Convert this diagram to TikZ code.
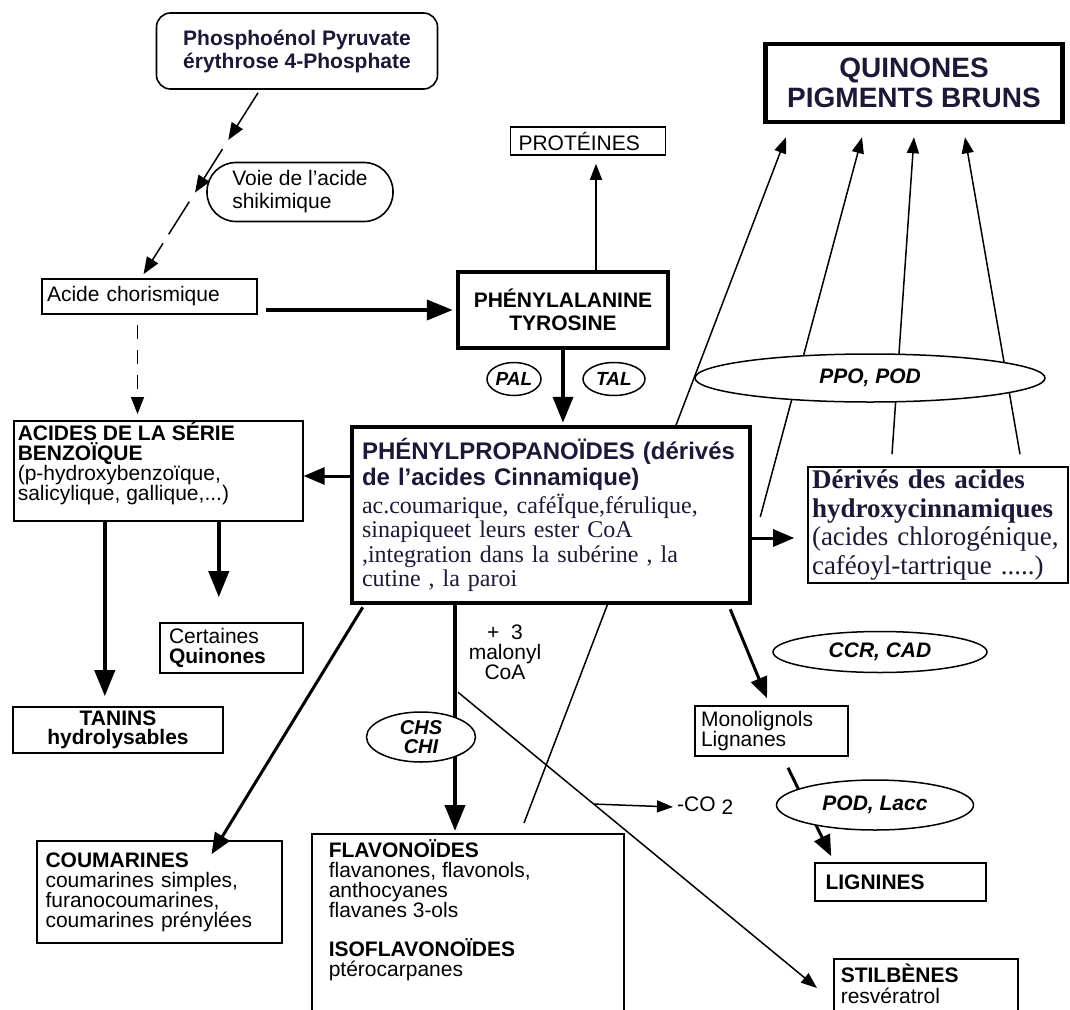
\documentclass[tikz,border=0pt]{standalone}
\usepackage{fontspec}
\setmainfont{Liberation Sans}
\newfontfamily\timesfont{Liberation Serif}
\usetikzlibrary{arrows.meta,shapes.geometric,calc,backgrounds}
\definecolor{ink}{RGB}{28,24,56}
\newcommand{\fsize}[2]{\fontsize{#1}{#2}\selectfont}

\begin{document}
\begin{tikzpicture}[x=1pt, y=-1pt,
	box/.style={draw, rectangle, line width=1.6pt, fill=white, inner sep=0pt, font=\fsize{21}{20}},
	heavybox/.style={box, line width=4.5pt},
	enzyme/.style={draw, ellipse, line width=1.5pt, fill=white, inner sep=0pt, align=center, font=\fsize{21}{19}\bfseries\itshape},
	pathway/.style={line width=1.5pt, >={Triangle[length=17pt,width=13pt]}},
	lightline/.style={line width=1.5pt, >={Triangle[length=16pt,width=12pt]}},
	midline/.style={line width=3pt, >={Triangle[length=21pt,width=17pt]}},
	heavyline/.style={line width=4pt, >={Triangle[length=26pt,width=20pt]}}]
	\useasboundingbox (0,0) rectangle (1070,1009);
	\node[box, rounded corners=14pt, minimum width=281pt, minimum height=76pt, align=center, font=\fsize{21}{23}\bfseries, text=ink] (0) at (297,51) {Phosphoénol Pyruvate\\érythrose 4-Phosphate};
	\node[box, rounded corners=29pt, minimum width=186pt, minimum height=59pt, align=left, font=\fsize{21}{23}] (1) at (300,192) {Voie de l'acide\\shikimique};
	\node[box, minimum width=215pt, minimum height=35pt, text width=205pt, align=left] (2) at (149.5,296.5) {Acide chorismique};
	\node[heavybox, minimum width=210pt, minimum height=76pt, align=center, font=\fsize{21}{23}\bfseries] (3) at (563,310) {PHÉNYLALANINE\\TYROSINE};
	\node[box, minimum width=155pt, minimum height=28pt, text width=139pt, align=left] (4) at (588,141) {PROTÉINES};
	\node[heavybox, minimum width=297pt, minimum height=78pt, align=center, font=\fsize{28}{30}\bfseries, text=ink] (5) at (914,83) {QUINONES\\PIGMENTS BRUNS};
	\node[enzyme, minimum width=54pt, minimum height=33pt, font=\fsize{19}{19}\bfseries\itshape] (6) at (514,379) {PAL};
	\node[enzyme, minimum width=62pt, minimum height=33pt, font=\fsize{19}{19}\bfseries\itshape] (7) at (614,379) {TAL};
	\node[enzyme, minimum width=350pt, minimum height=48pt] (8) at (870,378) {PPO, POD};
	\node[box, anchor=north west, inner xsep=4pt, inner ysep=1pt] (9) at (13,420) {\parbox[c][98pt][t]{281pt}{\bfseries ACIDES DE LA SÉRIE\\BENZOÏQUE\\\mdseries (p-hydroxybenzoïque,\\salicylique, gallique,...)}};
	\node[heavybox, minimum width=398pt, minimum height=176pt, text width=378pt, align=left, font=\fsize{24}{24.5}, text=ink] (10) at (551,515) {{\bfseries PHÉNYLPROPANOÏDES (dérivés\\[2pt]de l'acides Cinnamique)}\\[3pt]\timesfont ac.coumarique, caféÏque,férulique,\\sinapiqueet leurs ester CoA\\,integration dans la subérine , la\\cutine , la paroi};
	\node[box, minimum width=260pt, minimum height=116pt, text width=252pt, align=left, font=\fsize{27}{28.5}\timesfont, text=ink] (11) at (938,525) {\bfseries Dérivés des acides\\hydroxycinnamiques\\\mdseries (acides chlorogénique,\\caféoyl-tartrique .....)};
	\node[box, minimum width=143pt, minimum height=50pt, text width=125pt, align=left] (12) at (231.5,648) {Certaines\\\textbf{Quinones}};
	\node[box, minimum width=210pt, minimum height=46pt, align=center, font=\fsize{21}{19}\bfseries] (13) at (118,730) {TANINS\\hydrolysables};
	\node[box, minimum width=245pt, minimum height=102pt, text width=228pt, align=left] (14) at (159.5,892) {\textbf{COUMARINES}\\coumarines simples,\\furanocoumarines,\\coumarines prénylées};
	\node[align=center, font=\fsize{21}{20}] (15) at (505,652) {+\ \ 3\\malonyl\\CoA};
	\node[enzyme, minimum width=109pt, minimum height=50pt, inner sep=-3pt, font=\fsize{20}{19}\bfseries\itshape] (16) at (421,737) {CHS\\CHI};
	\node[box, anchor=north west, inner xsep=17pt, inner ysep=6pt] (17) at (311,833) {\parbox[c][190pt][t]{278pt}{\textbf{FLAVONOÏDES}\\flavanones, flavonols,\\anthocyanes\\flavanes 3-ols\\[19pt]\textbf{ISOFLAVONOÏDES}\\ptérocarpanes}};
	\node[box, minimum width=153pt, minimum height=50pt, text width=141pt, align=left, font=\fsize{21}{19}] (18) at (771.5,731) {Monolignols\\Lignanes};
	\node[enzyme, minimum width=214pt, minimum height=41pt] (19) at (880,652) {CCR, CAD};
	\node[enzyme, minimum width=197pt, minimum height=50pt] (20) at (875,805) {POD, Lacc};
	\node[box, minimum width=171pt, minimum height=38pt, text width=150pt, align=left, font=\fsize{21}{20}\bfseries] (21) at (900.5,882) {LIGNINES};
	\node[anchor=west, inner sep=0pt, font=\fsize{21}{20}] (22) at (677,806) {-CO~\raisebox{-3pt}{2}};
	\node[box, anchor=north west, inner xsep=7pt, inner ysep=5pt] (23) at (833,958) {\parbox[c][85pt][t]{170pt}{\textbf{STILBÈNES}\\[1pt]resvératrol}};
	\begin{scope}[on background layer]
		\fill[white] (0,0) rectangle (1070,1009);
		\draw[lightline, ->] ($(17.north west)+(213,-10)$) -- ($(5.south)+(-128,13)$);
		\draw[lightline, ->] ($(10.east)+(8,2)$) -- ($(5.south)+(-52,13)$);
		\draw[lightline, ->] ($(11.north)+(-46,-12)$) -- ($(5.south)+(0,13)$);
		\draw[lightline, ->] ($(11.north)+(82,-12)$) -- ($(5.south)+(51,13)$);
		\draw[heavyline, ->] ($(10.south)+(-96,0)$) -- ($(10.south |- 17.north)+(-96,-2)$);
		\draw[midline, ->] ($(18.south)+(16.5,11)$) -- ($(21.north west)+(17,-6)$);
	\end{scope}
	\coordinate (a) at ($(0.south)+(-39,3)$);
	\coordinate (b) at ($(2.north)+(-6,-4)$);
	\draw[pathway, ->] (a) -- ($(a)!0.26!(b)$);
	\draw[pathway, ->] ($(a)!0.31!(b)$) -- ($(a)!0.55!(b)$);
	\draw[pathway] ($(a)!0.6!(b)$) -- ($(a)!0.78!(b)$);
	\draw[pathway, ->] ($(a)!0.83!(b)$) -- (b);
	\draw[pathway, ->, dash pattern=on 14pt off 11pt] ($(2.south)+(-12,10)$) -- ($(2.south |- 9.north)+(-12,-6)$);
	\draw[heavyline, ->] ($(2.east |- 3.west)+(8,0)$) -- ($(3.west)+(-3,0)$);
	\draw[lightline, ->] ($(4.south |- 3.north)+(8,0)$) -- ($(4.south)+(8,8)$);
	\draw[heavyline, ->] (3.south) -- ($(3.south |- 10.north)+(0,-2)$);
	\draw[midline, ->] ($(10.west)+(0,-39)$) -- ($(10.west -| 9.east)+(0,-39)$);
	\draw[midline, ->] ($(10.east)+(0,23)$) -- ($(10.east -| 11.west)+(-13,23)$);
	\draw[heavyline, ->] ($(9.south)+(-53.5,0)$) -- ($(9.south |- 13.north)+(-53.5,-10)$);
	\draw[heavyline, ->] ($(9.south)+(60.5,0)$) -- ($(9.south |- 12.north)+(60.5,-25)$);
	\draw[midline, ->] ($(10.south west)+(13,2)$) -- ($(14.north)+(52,14)$);
	\draw[midline, ->] ($(10.south east)+(-22,4)$) -- ($(18.north)+(-4.5,-7)$);
	\coordinate (c) at ($(10.south)+(-93,87)$);
	\coordinate (d) at ($(23.north west)+(-16,30)$);
	\draw[lightline, ->] (c) -- (d);
	\draw[lightline, ->] ($(c)!0.378!(d)$) -- ($(22.west)+(-4,1)$);
\end{tikzpicture}
\end{document}
